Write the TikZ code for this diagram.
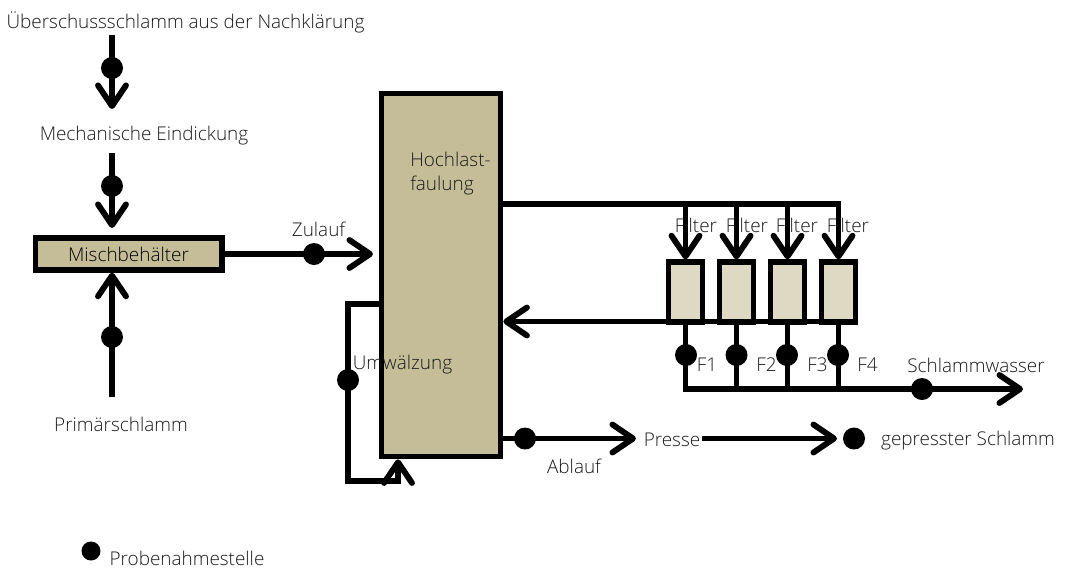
\documentclass[tikz,border=0pt]{standalone}
\usepackage{fontspec}
\usepackage{xcolor}
\usepackage{tikz}
\usetikzlibrary{arrows.meta,positioning}
\setmainfont{Open Sans Light}[BoldFont={Open Sans}]
\definecolor{tankfill}{HTML}{C4BD97}
\definecolor{filterfill}{HTML}{DDD9C3}
\definecolor{labeltext}{HTML}{1A1A1A}

\begin{document}
\begin{tikzpicture}[
  x=0.75pt, y=-0.75pt,
  font=\fontsize{14.2}{17.5}\selectfont,
  label/.style={text=labeltext, inner sep=0pt},
  tank/.style={rectangle, draw=black, line width=4pt, fill=tankfill, inner sep=0pt},
  filterbox/.style={rectangle, draw=black, line width=4pt, fill=filterfill, inner sep=0pt,
                    minimum width=25.5pt, minimum height=45pt},
  sample/.style={circle, fill=black, inner sep=0pt, minimum size=16.5pt},
  flow/.style={-{Straight Barb[length=15.5pt, width=21pt, round]}, line width=4.4pt},
  pipe/.style={line width=4.4pt, line cap=rect}
]
\useasboundingbox (0,0) rectangle (1069,568);

% labels
\node[label] (excess) at (185.5,22) {Überschussschlamm aus der Nachklärung};
\node[label] (thick) at (144,136) {Mechanische Eindickung};
\node[label] (primary) at (121,424) {Primärschlamm};
\node[label] (inflow) at (318.5,229) {Zulauf};
\node[label] (press) at (672,440) {Presse};
\node[label] (outflow) at (574,466) {Ablauf};
\node[label] (pressed) at (968,441) {gepresster Schlamm};
\node[label] (water) at (976,365) {Schlammwasser};
\node[label] (legend) at (187,558) {Probenahmestelle};

% vessels
\node[tank, minimum width=140pt, minimum height=24pt] (mixer) at (128.5,254) {Mischbehälter};
\node[tank, minimum width=89.5pt, minimum height=272.5pt] (digester) at (441,275) {};
\node[filterbox] (filter1) at (685.5,292) {};
\node[filterbox, right=8.75pt of filter1] (filter2) {};
\node[filterbox, right=8.75pt of filter2] (filter3) {};
\node[filterbox, right=8.75pt of filter3] (filter4) {};
\node[label, align=left, anchor=west] (digesterlabel) at (410,173.5) {Hochlast-\\faulung};
\node[label] (loop) at (402.5,365) {Umwälzung};

\node[label] (filterlabel1) at (696,225.5) {Filter};
\node[label] (filterlabel2) at (747,225.5) {Filter};
\node[label] (filterlabel3) at (797,225.5) {Filter};
\node[label] (filterlabel4) at (848,225.5) {Filter};
\node[label] (f1) at (707,365) {F1};
\node[label] (f2) at (766.5,365) {F2};
\node[label] (f3) at (817.5,365) {F3};
\node[label] (f4) at (867.5,365) {F4};

% free ends
\coordinate (excessstart) at (112,35);
\coordinate (excessend) at (112,109);
\coordinate (thickstart) at (112,153);
\coordinate (thickend) at (112,228);
\coordinate (primarystart) at (112,397);
\coordinate (inflowend) at (373,254);
\coordinate (gasout) at (digester.east |- 0,204);
\coordinate (gasend) at (filter4.north |- 0,204);
\coordinate (collect) at (filter1.south |- 0,389);
\coordinate (waterend) at (1023,389);
\coordinate (returnstart) at (filter4.east |- 0,321.5);
\coordinate (returnend) at (digester.east |- returnstart);
\coordinate (loopout) at (digester.west |- 0,304);
\coordinate (loopleft) at (348,304);
\coordinate (loopbottom) at (348,481);
\coordinate (loopin) at (398,481);
\coordinate (loopend) at (digester.south -| 398,0);
\coordinate (outstart) at (digester.east |- 0,438.5);
\coordinate (outend) at (636,438.5);
\coordinate (pressstart) at (702,438.5);
\coordinate (pressend) at (837,438.5);

% connectors
\draw[flow] (excessstart) -- (excessend);
\draw[flow] (thickstart) -- (thickend);
\draw[flow] (primarystart) -- (mixer.south -| 112,0);
\draw[flow] (mixer.east) -- (inflowend);
\draw[pipe] (gasout) -- (gasend);
\draw[flow] (filter1.north |- gasout) -- (filter1.north);
\draw[flow] (filter2.north |- gasout) -- (filter2.north);
\draw[flow] (filter3.north |- gasout) -- (filter3.north);
\draw[flow] (filter4.north |- gasout) -- (filter4.north);
\draw[flow] (returnstart) -- (returnend);
\draw[pipe] (filter1.south) -- (collect);
\draw[pipe] (filter2.south) -- (filter2.south |- collect);
\draw[pipe] (filter3.south) -- (filter3.south |- collect);
\draw[pipe] (filter4.south) -- (filter4.south |- collect);
\draw[flow] (collect) -- (waterend);
\draw[pipe] (loopout) -- (loopleft) -- (loopbottom) -- (loopin);
\draw[flow] (loopin) -- (loopend);
\draw[flow] (outstart) -- (outend);
\draw[flow] (pressstart) -- (pressend);

% sampling points
\node[sample] (s1) at (112,68) {};
\node[sample] (s2) at (112,186) {};
\node[sample] (s3) at (112,337) {};
\node[sample] (s4) at (314,254) {};
\node[sample] (s5) at (348,380) {};
\node[sample] (s6) at (525,438.5) {};
\node[sample] (s7) at (854,438.5) {};
\node[sample] (s8) at (686,355) {};
\node[sample] (s9) at (736.5,355) {};
\node[sample] (s10) at (787,355) {};
\node[sample] (s11) at (838,355) {};
\node[sample] (s12) at (922,389) {};
\node[sample, minimum size=14.25pt] (s13) at (91,551) {};

\end{tikzpicture}
\end{document}
